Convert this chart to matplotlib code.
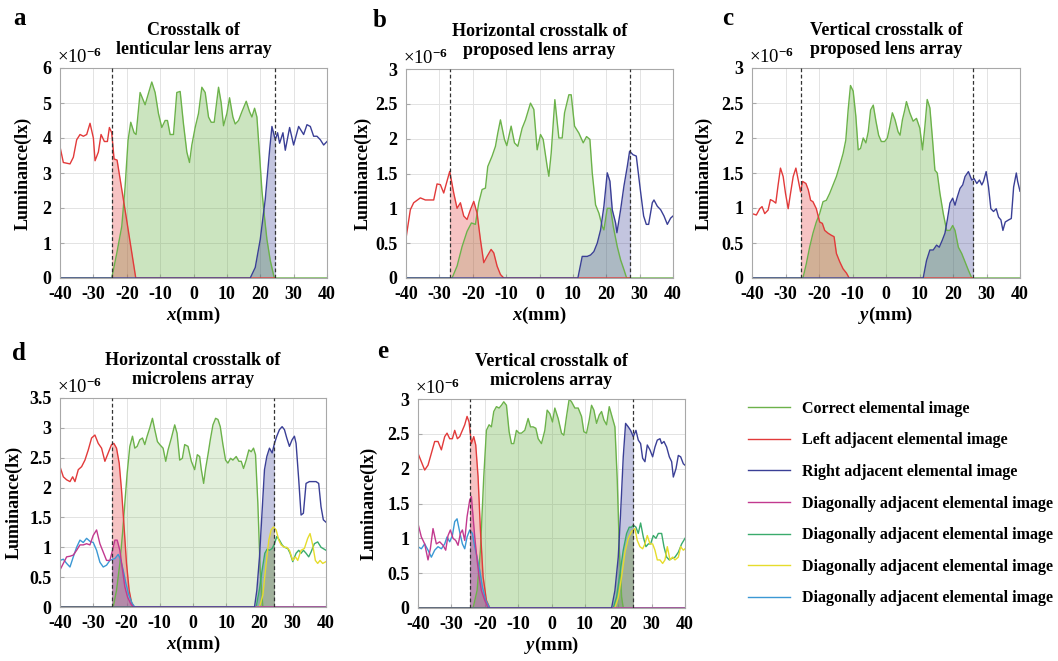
import numpy as np
import matplotlib.pyplot as plt
from matplotlib.patches import Rectangle

plt.rcParams['font.family'] = 'Liberation Serif'
plt.rcParams['font.weight'] = 'bold'
plt.rcParams['axes.labelweight'] = 'bold'
plt.rcParams['mathtext.fontset'] = 'custom'
plt.rcParams['mathtext.rm'] = 'Liberation Serif'
plt.rcParams['mathtext.it'] = 'Liberation Serif:italic:bold'
plt.rcParams['mathtext.bf'] = 'Liberation Serif:bold'
plt.rcParams['axes.unicode_minus'] = False

# ---------------- data (luminance in units of 1e-6 lx) ----------------
# panel a : lenticular lens array
a_green_x = [-40, -24.5, -23, -21.5, -20.5, -19.6, -18.8, -17.8, -17.2, -16, -14.5, -12.5, -11.5, -10.5,
             -9.5, -8.5, -7.8, -7, -6, -5, -4, -3, -2, -1.2, -0.5, 0.5, 1.5, 2.5, 3.5, 4.5, 5.3, 6.2,
             7.5, 8.3, 9, 10, 10.8, 11.8, 12.5, 13.5, 14.5, 15.8, 16.8, 17.5, 18.3, 19, 19.8, 20.5,
             21.2, 22, 23, 24.2, 40]
a_green = [0, 0, 0.7, 1.47, 2.6, 3.94, 4.45, 4.15, 4.1, 5.3, 4.95, 5.6, 5.3, 4.7,
           4.3, 4.5, 4.5, 4.1, 4.1, 5.3, 5.33, 4.4, 3.6, 3.3, 3.8, 4.3, 4.7, 5.45, 5.3, 4.6, 4.45, 4.45,
           5.45, 5.0, 4.35, 4.7, 5.15, 4.6, 4.4, 4.5, 4.75, 5.05, 4.75, 4.6, 4.85, 4.6, 3.5, 2.5,
           1.8, 1.1, 0.5, 0, 0]
a_red_x = [-40, -39, -38, -37, -36, -35, -34, -33, -32, -31, -30, -29.5, -28.5, -27.7, -26.7, -25.8,
           -25.2, -24.5, -23.8, -22.9, -20.1, -17.3, 24.5]
a_red = [3.75, 3.3, 3.28, 3.26, 3.45, 3.95, 4.1, 4.05, 4.1, 4.42, 4.0, 3.35, 3.6, 4.1, 3.9, 3.9,
         4.3, 4.15, 3.4, 3.37, 1.7, 0, 0]
a_blue_x = [-40, 17, 18.5, 20, 21.5, 22.8, 23.5, 24.5, 25.2, 25.8, 26.8, 27.5, 28.8, 30, 31.5, 33, 34,
            35, 36, 37, 38, 39, 40]
a_blue = [0, 0, 0.3, 1.1, 2.25, 3.65, 4.33, 3.95, 4.15, 3.85, 4.15, 3.65, 4.3, 3.8, 4.33, 4.1, 4.38,
          4.33, 4.05, 4.05, 3.95, 3.8, 3.9]

# panel b : horizontal crosstalk, proposed lens array
b_green_x = [-40, -26.2, -24.7, -23.2, -21.7, -20.4, -19.2, -18.2, -17.2, -16.2, -15.5, -14.2, -13.2,
             -12.5, -11.7, -10.5, -9.8, -8.5, -7.5, -6.5, -5.2, -4.2, -2.7, -1.7, -0.7, 0.3, 1.1, 2.3,
             2.8, 3.5, 4.6, 5.8, 6.8, 7.5, 8.8, 9.5, 10.5, 11.8, 13.1, 14.1, 15.1, 15.8, 16.8, 17.8,
             18.8, 19.3, 20.3, 21.3, 22.1, 23.3, 24.3, 25.3, 26.1, 40]
b_green = [0, 0, 0.17, 0.45, 0.67, 0.79, 0.77, 1.08, 1.27, 1.29, 1.6, 1.75, 1.89,
           2.08, 2.27, 1.99, 1.9, 2.18, 1.94, 1.89, 2.15, 2.27, 2.51, 2.42, 1.84, 2.06, 1.99, 1.6,
           1.46, 1.79, 2.56, 2.01, 2.01, 2.37, 2.63, 2.63, 2.18, 2.08, 1.94, 2.03, 1.99, 1.51, 1.05, 0.93,
           0.74, 0.69, 1.0, 1.0, 0.74, 0.45, 0.26, 0.12, 0, 0]
b_red_x = [-40, -38.7, -37.7, -35.7, -34.2, -32.7, -31.7, -30.7, -29.7, -28.7, -26.9, -25.7, -24.7,
           -23.7, -22.7, -21.7, -20.7, -19.7, -18.7, -17.7, -16.7, -15.7, -14.5, -13.7, -12.7, -11.7,
           -10.7, 27]
b_red = [0.57, 0.98, 1.08, 1.15, 1.12, 1.12, 1.12, 1.35, 1.34, 1.22, 1.53, 1.22, 1.0,
         1.08, 0.89, 0.84, 0.98, 1.1, 0.93, 0.55, 0.22, 0.31, 0.41, 0.36, 0.17, 0.05,
         0, 0]
b_blue_x = [-40, 11.5, 12.8, 14.3, 15.3, 16.3, 17.3, 18.3, 19.3, 20.3, 21.1, 21.8, 22.8, 23.2, 24.3,
            25.3, 26.3, 27, 28, 29, 30.2, 31.2, 32, 32.7, 33.8, 34.3, 35.3, 36.3, 37.3, 38.3, 39.3, 40]
b_blue = [0, 0, 0.31, 0.31, 0.33, 0.38, 0.5, 0.69, 1.03, 1.51, 1.39, 0.98, 0.79, 0.65, 0.98,
          1.32, 1.6, 1.82, 1.77, 1.75, 1.27, 0.89, 0.77, 0.77, 1.08, 1.12, 1.03, 0.98, 0.89, 0.77, 0.86, 0.89]

# panel c : vertical crosstalk, proposed lens array
c_green_x = [-40, -24.8, -23.8, -22.8, -21.8, -20.8, -19.8, -18.8, -17.8, -16.8, -15.8, -14.8, -13.8,
             -12.8, -12, -11.3, -10.6, -9.8, -9, -8.3, -7.6, -6.8, -6, -5.3, -4.6, -3.8, -3, -2.2,
             -1.4, -0.4, 0.4, 1.1, 1.9, 2.7, 3.6, 4.2, 4.9, 5.6, 6.1, 7.1, 8.1, 9.1, 10.1, 10.9, 11.6,
             12.3, 13.1, 13.9, 14.6, 15.3, 16.1, 17.1, 18.1, 19.1, 19.9, 20.6, 21.6, 22.6, 23.6, 24.6,
             25.6, 40]
c_green = [0, 0, 0.2, 0.44, 0.64, 0.8, 0.92, 1.09, 1.11, 1.21, 1.33, 1.45, 1.61,
           1.78, 1.97, 2.4, 2.75, 2.67, 2.31, 1.83, 1.85, 2.0, 1.93, 2.09, 2.4, 2.47, 2.24, 2.04,
           1.95, 1.95, 2.0, 2.16, 2.36, 2.26, 2.09, 2.04, 2.26, 2.4, 2.52, 2.36, 2.24, 2.28, 2.14, 1.83, 2.16,
           2.55, 2.43, 1.97, 1.54, 1.5, 1.21, 0.92, 0.68, 0.68, 0.75, 0.68, 0.44, 0.35, 0.23, 0.11,
           0, 0]
c_red_x = [-40, -38.7, -37.7, -37, -36.2, -35.2, -34.5, -33.7, -32.9, -32.2, -31.5, -30.7, -30, -29.2,
           -28.5, -27.7, -26.9, -26.2, -25.5, -24.9, -23.9, -23.2, -22.5, -21.8, -20.8, -19.8, -19,
           -18.3, -17.3, -16.3, -15.5, -14.8, -13.8, -12.8, -11.8, -11, 26]
c_red = [0.92, 0.9, 0.99, 1.02, 0.92, 0.97, 1.12, 1.1, 1.07, 1.33, 1.57, 1.45, 1.21, 0.99,
         1.21, 1.45, 1.57, 1.4, 1.23, 1.38, 1.35, 1.26, 1.11, 1.09, 0.99, 0.8, 0.78,
         0.68, 0.64, 0.61, 0.59, 0.35, 0.23, 0.13, 0.07, 0, 0]
c_blue_x = [-40, 11.1, 12.1, 13.1, 14.1, 15.1, 15.9, 16.8, 17.6, 18.3, 19.1, 19.9, 20.6, 21.3, 22.1,
            22.9, 23.6, 24.6, 25.6, 26.3, 27.1, 27.9, 28.6, 29.1, 29.9, 30.6, 31.3, 32.1, 32.9, 33.6,
            34.3, 34.9, 35.6, 36.6, 37.4, 38.1, 38.9, 39.3, 40]
c_blue = [0, 0, 0.25, 0.4, 0.4, 0.47, 0.44, 0.54, 0.64, 0.83, 1.07, 1.14, 1.04, 1.16, 1.28,
          1.33, 1.45, 1.52, 1.4, 1.42, 1.35, 1.4, 1.33, 1.38, 1.52, 1.3, 0.99, 0.95, 0.99, 0.87,
          0.83, 0.68, 0.8, 0.83, 0.85, 1.3, 1.5, 1.38, 1.24]

# panel d : horizontal crosstalk, microlens array
d_green_x = [-40, -24, -23, -22, -21.2, -20.5, -19.8, -19, -18.2, -17.5, -16.8, -16, -15.2, -14.5, -13.8,
             -13, -12.2, -11.5, -10.7, -10, -9, -8.2, -7.5, -6.5, -5.5, -4.8, -4, -3.2, -2.5, -1.5,
             -0.5, 0.5, 1.3, 2, 2.5, 3.2, 3.8, 4.5, 5.2, 6, 6.8, 7.5, 8.2, 9, 9.8, 10.5, 11.3, 12, 13,
             13.8, 14.5, 15.2, 16, 16.8, 17.5, 18.2, 18.8, 19.5, 20.2, 21, 40]
d_green = [0, 0, 0.28, 0.73, 1.23, 1.74, 2.24, 2.69, 2.86, 2.66, 2.69, 2.8, 2.83, 2.72, 2.86,
           3.0, 3.16, 2.97, 2.77, 2.72, 2.66, 2.44, 2.63, 2.83, 3.05, 2.91, 2.46, 2.49, 2.72, 2.69,
           2.44, 2.3, 2.55, 2.52, 2.3, 2.07, 2.32, 2.55, 2.8, 3.05, 3.16, 3.14, 3.02, 2.72, 2.46, 2.41, 2.49, 2.46, 2.52,
           2.44, 2.44, 2.32, 2.46, 2.63, 2.6, 2.66, 2.55, 1.74, 0.62, 0, 0]
d_red_x = [-40, -39, -38, -37, -36.2, -35.5, -34.5, -33.5, -32.5, -31.5, -30.5, -29.5, -28.5, -27.5,
           -26.5, -25.5, -24.5, -23.8, -23, -22.2, -21.5, -20.8, -20, -19.2, -18.5, -17.8, 24.5]
d_red = [2.35, 2.18, 2.13, 2.1, 2.18, 2.1, 2.3, 2.35, 2.46, 2.63, 2.83, 2.88, 2.74, 2.66,
         2.44, 2.58, 2.72, 2.74, 2.66, 2.41, 1.96, 1.4, 0.73, 0.28, 0.08, 0, 0]
d_blue_x = [-40, 18.5, 19.2, 20, 20.8, 21.5, 22.2, 23, 23.8, 24.5, 25.2, 26, 26.8, 27.5, 28.2, 29, 29.8,
            30.5, 31, 31.8, 32.5, 33.2, 34, 35, 36, 37, 37.8, 38.5, 39.2, 40]
d_blue = [0, 0, 0.28, 0.84, 1.62, 2.3, 2.52, 2.66, 2.58, 2.74, 2.86, 2.97, 3.02, 2.97, 2.83, 2.69, 2.8,
          2.86, 2.74, 2.13, 1.54, 1.57, 2.07, 2.1, 2.1, 2.1, 2.07, 1.68, 1.46, 1.42]
d_diag1_x = [-40, -39, -38, -37, -36, -35, -34, -33, -32, -31, -30, -29, -28, -27, -26, -25, -24.2,
             -23.5, -22.8, -22, -21.2, -20.5, -19.7, -18.8, -18, 40]
d_diag1 = [0.62, 0.73, 0.84, 0.85, 0.87, 0.95, 1.04, 1.04, 1.06, 1.04, 1.2, 1.29, 1.06, 0.92, 0.78, 0.78, 0.95,
           1.12, 1.12, 0.95, 0.62, 0.34, 0.17, 0.06, 0, 0]
d_diag2_x = [-40, 19, 20, 20.8, 21.6, 22.3, 23, 23.8, 24.5, 25.2, 26, 26.8, 27.5, 28.5, 29.2, 30, 31,
             31.8, 32.5, 33.2, 34, 34.8, 35.5, 36.5, 37.5, 38.5, 40]
d_diag2 = [0, 0, 0.3, 0.62, 0.9, 0.97, 0.95, 0.98, 1.06, 1.18, 1.12, 1.04, 1.0, 0.98, 0.9, 0.76, 0.9,
           0.95, 0.9, 0.95, 0.9, 0.84, 0.92, 1.06, 1.09, 1.0, 0.95]
d_diag3_x = [-40, 20, 21, 22, 22.8, 23.5, 24.2, 25, 25.8, 26.5, 27.5, 28.2, 29, 30, 30.8, 31.5, 32.5,
             33.5, 34.5, 35.2, 36, 36.8, 37.5, 38.2, 39, 40]
d_diag3 = [0, 0, 0.2, 0.73, 1.12, 1.29, 1.34, 1.29, 1.12, 1.04, 1.0, 1.0, 0.95, 0.78, 0.84, 0.78, 0.95,
           0.98, 1.15, 1.23, 1.04, 0.78, 0.73, 0.78, 0.73, 0.76]
d_diag4_x = [-40, -39, -38, -37, -36, -35, -34, -33, -32, -31, -30, -29, -28, -27, -26, -25, -24.2,
             -23.5, -22.5, -21.8, -21, -20.2, -19.3, -18.3, -17.5, 40]
d_diag4 = [0.78, 0.8, 0.73, 0.67, 0.84, 1.0, 1.12, 1.08, 1.15, 1.1, 1.08, 0.95, 0.75, 0.67, 0.7, 0.78, 0.8,
           0.81, 0.88, 0.8, 0.62, 0.4, 0.2, 0.06, 0, 0]

# panel e : vertical crosstalk, microlens array
e_green_x = [-40, -23.5, -22.3, -21.3, -20.3, -19.5, -18.7, -18, -17.3, -16.5, -15.7, -15, -14.3, -13.5,
             -12.7, -12, -11.3, -10.5, -9.7, -9, -8, -7, -6.3, -5.5, -4.7, -4, -3, -2, -1.3, -0.5,
             0.3, 1, 2, 3, 3.7, 4.5, 5.3, 6, 7, 8, 9, 9.7, 10.5, 11.3, 12, 12.7, 13.5, 14.3, 15, 15.7,
             16.5, 17.3, 18, 19, 19.7, 20.3, 21, 21.5, 40]
e_green = [0, 0, 0.25, 0.83, 1.88, 2.55, 2.63, 2.6, 2.82, 2.89, 2.87, 2.91, 2.96, 2.91,
           2.53, 2.36, 2.36, 2.55, 2.51, 2.51, 2.55, 2.72, 2.6, 2.6, 2.58, 2.43, 2.36, 2.55, 2.84, 2.79,
           2.67, 2.87, 2.72, 2.51, 2.48, 2.75, 3.0, 2.96, 2.87, 2.87, 2.75, 2.53, 2.51, 2.7, 2.91, 2.84, 2.65, 2.77, 2.82, 2.7,
           2.63, 2.89, 2.77, 2.6, 1.84, 0.88, 0.16, 0, 0]
e_red_x = [-40, -39, -38, -37, -36, -35, -34, -33, -32, -31.3, -30.5, -29.7, -29, -28.2, -27.5, -26.7,
           -26, -25.3, -24.7, -24, -23.3, -22.7, -22, -21.3, -20.5, -19.5, -18.5, 24.5]
e_red = [2.22, 2.1, 1.98, 2.05, 2.22, 2.39, 2.39, 2.27, 2.46, 2.51, 2.43, 2.43, 2.55, 2.43, 2.46, 2.55,
         2.63, 2.75, 2.67, 2.36, 2.46, 2.34, 1.88, 1.12, 0.45, 0.11, 0, 0]
e_blue_x = [-40, 18, 19, 20, 20.7, 21.5, 22.2, 23, 23.7, 24.5, 25.3, 26, 26.7, 27.3, 28, 28.7, 29.5, 30.3,
            31, 31.7, 32.5, 33, 33.7, 34.5, 35.3, 36, 36.5, 37.3, 38, 38.7, 39.5, 40]
e_blue = [0, 0, 0.25, 0.73, 1.36, 2.17, 2.65, 2.6, 2.55, 2.46, 2.55, 2.41, 2.36, 2.15, 2.1, 2.34, 2.27, 2.17,
          2.31, 2.41, 2.43, 2.36, 2.39, 2.31, 2.17, 2.1, 1.88, 2.0, 2.19, 2.17, 2.07, 2.05]
e_diag1_x = [-40, -39, -38, -37, -36.3, -35.5, -34.5, -33.5, -32.5, -31.7, -31, -30.3, -29.5, -28.7, -28,
             -27.3, -26.7, -26, -25.3, -24.5, -24, -23.5, -23, -22.3, -21.7, -21, -20, -19, 40]
e_diag1 = [1.21, 1.02, 0.92, 0.69, 0.85, 1.14, 0.92, 0.95, 0.9, 0.83, 1.04, 1.12, 1.0, 0.97, 0.9,
           1.07, 1.12, 0.97, 1.31, 1.55, 1.6, 1.31, 1.02, 0.69, 0.45, 0.25, 0.11, 0, 0]
e_diag2_x = [-40, 18.5, 19.5, 20.5, 21.5, 22.5, 23.3, 24, 24.5, 25.3, 26, 26.7, 27.5, 28.3, 29, 29.7,
             30.5, 31.3, 32, 33, 33.7, 34.5, 35.3, 36, 37, 38, 39, 40]
e_diag2 = [0, 0, 0.16, 0.49, 0.83, 1.07, 1.16, 1.16, 1.19, 1.16, 1.07, 1.22, 1.02, 0.88, 0.92, 0.92,
           1.04, 1.0, 1.07, 1.07, 0.88, 0.73, 0.69, 0.71, 0.73, 0.8, 0.92, 1.0]
e_diag3_x = [-40, 19, 20, 21, 22, 23, 24, 25, 25.7, 26.5, 27.3, 28, 28.7, 29.5, 30.3, 31, 31.7, 32.5,
             33.3, 34, 34.7, 35.5, 36.3, 37, 38, 38.7, 39.5, 40]
e_diag3 = [0, 0, 0.15, 0.45, 0.8, 1.0, 1.1, 1.14, 0.97, 0.88, 0.85, 0.92, 1.04, 0.92, 0.92, 0.83, 0.69, 0.69,
           0.64, 0.69, 0.88, 0.69, 0.73, 0.69, 0.73, 0.88, 0.83, 0.85]
e_diag4_x = [-40, -39, -38, -37, -36, -35, -34, -33, -32, -31.3, -30.5, -29.7, -29, -28.3, -27.5, -26.7,
             -26, -25.3, -24.5, -23.7, -23, -22.3, -21.5, -20.7, -19.7, -18.5, 40]
e_diag4 = [0.88, 0.85, 0.92, 0.83, 0.73, 0.83, 0.88, 0.85, 0.92, 1.02, 0.95, 1.04, 1.24, 1.28, 1.09, 0.92,
           0.85, 1.02, 1.12, 1.07, 0.88, 0.73, 0.54, 0.3, 0.11, 0, 0]

legend_labels = ['Correct elemental image', 'Left adjacent elemental image',
                 'Right adjacent elemental image', 'Diagonally adjacent elemental image',
                 'Diagonally adjacent elemental image', 'Diagonally adjacent elemental image',
                 'Diagonally adjacent elemental image']

GREEN = '#6cb24a'
RED = '#e23a3a'
BLUE = '#3a3f96'
MAGENTA = '#c2398f'
TEAL = '#3aab6c'
YELLOW = '#e6dc2c'
LBLUE = '#3b98d4'

W, H = 1058, 661
fig = plt.figure(figsize=(W / 100, H / 100), dpi=100)


def px_rect(l, t, r, b):
    return [l / W, 1 - b / H, (r - l) / W, (b - t) / H]


def panel(box, title, xlab, ymax, curves, dashes, green_alpha, ylab_x):
    ax = fig.add_axes(px_rect(*box))
    lo, hi = dashes
    lines = {}
    # fills, clipped to the region between the dashed lines
    for x, y, c, name in curves:
        alpha = green_alpha if c == GREEN else 0.3
        poly = ax.fill_between(x, y, 0, color=c, alpha=alpha, lw=0, zorder=1)
        clip = Rectangle((lo, -1), hi - lo, 10, transform=ax.transData)
        poly.set_clip_path(clip)
    for x, y, c, name in curves:
        lines[name], = ax.plot(x, y, color=c, lw=1.0, zorder=2)
    for d in dashes:
        ax.axvline(d, color='#333333', lw=0.9, ls=(0, (3, 2)), zorder=3)
    ax.set_xlim(-40, 40)
    ax.set_ylim(0, ymax)
    ax.set_xticks(np.arange(-40, 41, 10))
    yt = np.arange(0, ymax + 0.01, 1 if ymax > 4 else 0.5)
    ax.set_yticks(yt)
    ax.set_yticklabels(['%g' % v for v in yt])
    ax.grid(True, color='#e3e3e3', lw=0.7)
    ax.set_axisbelow(True)
    for s in ax.spines.values():
        s.set_color('#a8a8a8')
        s.set_linewidth(0.8)
    ax.tick_params(direction='in', length=3, color='#a8a8a8', labelsize=13, pad=6)
    ax.set_title(title, fontsize=13, fontweight='bold', pad=10, linespacing=1.15)
    ax.set_xlabel(xlab, fontsize=13.5, fontweight='bold', labelpad=1)
    ax.set_ylabel('Luminance(lx)', fontsize=13, fontweight='bold')
    ax.yaxis.set_label_coords(ylab_x, 0.5)
    ax.text(-0.01, 1.004, r'×10$^{-6}$', transform=ax.transAxes, fontsize=13.5,
            fontweight='normal', ha='left', va='bottom')
    return lines


panel((60, 68, 327, 278), 'Crosstalk of\nlenticular lens array', r'$x$(mm)', 6,
      [(a_green_x, a_green, GREEN, 'g'), (a_red_x, a_red, RED, 'r'), (a_blue_x, a_blue, BLUE, 'b')],
      (-24.5, 24.5), 0.35, -0.105)
panel((406, 69, 673, 278), 'Horizontal crosstalk of\nproposed lens array', r'$x$(mm)', 3,
      [(b_green_x, b_green, GREEN, 'g'), (b_red_x, b_red, RED, 'r'), (b_blue_x, b_blue, BLUE, 'b')],
      (-26.9, 27), 0.22, -0.127)
panel((752, 68, 1020, 278), 'Vertical crosstalk of\nproposed lens array', r'$y$(mm)', 3,
      [(c_green_x, c_green, GREEN, 'g'), (c_red_x, c_red, RED, 'r'), (c_blue_x, c_blue, BLUE, 'b')],
      (-25.3, 26), 0.35, -0.146)
ld = panel((60, 398, 326, 607), 'Horizontal crosstalk of\nmicrolens array', r'$x$(mm)', 3.5,
           [(d_green_x, d_green, GREEN, 'g'), (d_red_x, d_red, RED, 'r'),
            (d_diag2_x, d_diag2, TEAL, 'd2'), (d_diag3_x, d_diag3, YELLOW, 'd3'),
            (d_diag4_x, d_diag4, LBLUE, 'd4'), (d_diag1_x, d_diag1, MAGENTA, 'd1'),
            (d_blue_x, d_blue, BLUE, 'b')],
           (-24.5, 24.5), 0.2, -0.139)
panel((418, 399, 685, 608), 'Vertical crosstalk of\nmicrolens array', r'$y$(mm)', 3,
      [(e_green_x, e_green, GREEN, 'g'), (e_red_x, e_red, RED, 'r'),
       (e_diag2_x, e_diag2, TEAL, 'd2'), (e_diag3_x, e_diag3, YELLOW, 'd3'),
       (e_diag4_x, e_diag4, LBLUE, 'd4'), (e_diag1_x, e_diag1, MAGENTA, 'd1'),
       (e_blue_x, e_blue, BLUE, 'b')],
      (-24.5, 24.5), 0.35, -0.15)

# panel letters
for letter, (lx, ly) in zip('abcde', [(13, 25), (373, 27), (722, 25), (12, 360), (377, 358)]):
    fig.text(lx / W, 1 - ly / H, letter, fontsize=18, fontweight='bold', va='baseline', ha='left')

handles = [ld[k] for k in ['g', 'r', 'b', 'd1', 'd2', 'd3', 'd4']]
fig.legend(handles, legend_labels, loc='center left', bbox_to_anchor=(748 / W, 1 - 503.5 / H),
           frameon=False, fontsize=11.5, handlelength=2.6, handletextpad=0.8, labelspacing=0.98,
           borderpad=0, borderaxespad=0)

fig.savefig('out.png', dpi=100)
